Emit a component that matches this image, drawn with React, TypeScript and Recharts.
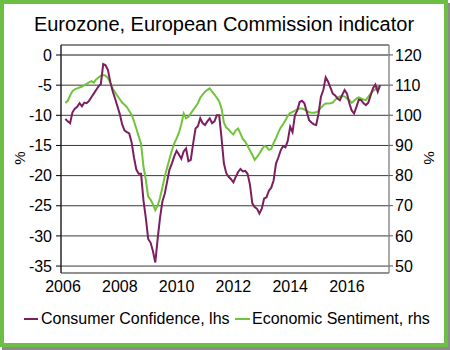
import React from 'react';
import { LineChart, Line, XAxis, YAxis, CartesianGrid, ReferenceLine, ReferenceArea } from 'recharts';

// Monthly series, Feb 2006 .. Mar 2017
const startYear = 2006;
const startMonthIndex = 1; // February
const consumerConfidence = [
  -10.6, -11.0, -11.3, -9.5, -8.9, -8.6, -8.0, -8.5, -7.9, -8.0, -7.6,
  -7.0, -6.4, -5.8, -5.2, -4.8, -1.5, -1.7, -2.5, -4.5, -6.0, -7.2, -8.5,
  -9.8, -11.5, -12.5, -12.8, -13.0, -14.5, -17.0, -19.0, -19.7, -19.7, -24.1, -27.0,
  -30.5, -31.1, -32.5, -34.4, -30.5, -27.0, -24.3, -23.0, -21.0, -19.0, -18.0, -16.8,
  -15.9, -16.5, -17.2, -16.0, -15.5, -17.6, -17.4, -14.7, -12.2, -11.8, -10.5, -11.3,
  -11.6, -11.0, -10.5, -11.3, -11.0, -10.0, -10.0, -13.8, -18.0, -19.6, -20.2, -20.6,
  -21.1, -20.2, -19.4, -18.9, -19.3, -19.2, -19.7, -21.5, -24.6, -25.2, -25.5, -26.3,
  -25.5, -23.8, -23.6, -22.5, -22.0, -20.8, -18.0, -17.0, -15.8, -15.1, -15.3, -14.2,
  -11.9, -12.8, -10.0, -9.2, -7.8, -7.6, -8.0, -9.4, -10.8, -11.2, -11.5, -11.6,
  -9.7, -6.9, -5.8, -3.7, -4.4, -5.4, -6.4, -6.7, -7.2, -7.5, -6.6, -5.8,
  -6.4, -8.0, -9.2, -9.7, -8.6, -7.4, -7.5, -8.0, -8.3, -7.9, -6.7, -5.5,
  -4.9, -6.1, -5.0,
];
const economicSentiment = [
  104.1, 104.8, 106.5, 108.0, 108.6, 108.9, 109.2, 109.5, 110.0, 110.4, 110.9,
  111.3, 110.8, 111.9, 112.5, 113.1, 113.3, 113.1, 112.3, 110.8, 108.9, 107.6, 106.4,
  105.3, 104.2, 103.5, 102.7, 101.4, 100.2, 98.0, 95.5, 93.0, 90.5, 83.0, 78.6,
  73.0, 72.0, 70.5, 68.5, 70.0, 72.6, 76.0, 79.6, 82.6, 85.5, 88.3, 90.6,
  92.3, 94.2, 97.0, 100.6, 99.0, 99.5, 100.6, 101.7, 102.8, 104.0, 105.8, 106.8,
  107.8, 108.4, 108.9, 107.8, 106.8, 105.8, 104.6, 102.2, 97.5, 95.9, 95.3, 94.3,
  93.6, 95.0, 95.6, 93.9, 92.1, 91.3, 89.8, 88.3, 86.9, 85.2, 86.2, 87.3,
  88.6, 89.8, 89.5, 88.5, 88.8, 90.8, 92.4, 94.3, 95.9, 97.0, 98.3, 99.8,
  100.7, 101.1, 101.5, 102.0, 102.2, 102.2, 101.9, 101.5, 101.0, 100.8, 100.8, 101.0,
  101.5, 102.5, 103.3, 103.9, 103.9, 104.0, 104.2, 105.1, 105.8, 106.2, 106.4, 106.2,
  105.6, 105.0, 104.1, 104.8, 105.5, 105.9, 105.6, 105.2, 105.0, 106.1, 107.2, 108.0,
  108.6, 109.5, 109.7,
];
const yearTicks = [2006, 2008, 2010, 2012, 2014, 2016];
const leftTicks = [-35, -30, -25, -20, -15, -10, -5, 0];
const rightTicks = [50, 60, 70, 80, 90, 100, 110, 120];

const title = 'Eurozone, European Commission indicator';
const ccName = 'Consumer Confidence, lhs';
const esiName = 'Economic Sentiment, rhs';

const data = consumerConfidence.map((cc, i) => ({
  t: startYear + (startMonthIndex + i) / 12,
  cc,
  esi: economicSentiment[i],
}));

const FONT = '"Liberation Sans", Arial, sans-serif';
const PURPLE = '#7B1F5F';
const GREEN = '#70C43A';

const xDomain: [number, number] = [2005.93, 2017.48];
const leftDomain: [number, number] = [-36.15, 1.66];
const rightDomain: [number, number] = [47.67, 123.3];

export default function App() {
  return (
    <div style={{ position: 'absolute', left: 0, top: 0, width: 450, height: 350, background: '#fff', fontFamily: FONT }}>
      <div style={{ position: 'absolute', left: 2, top: 3, width: 448, height: 347, background: '#8c8c8c' }} />
      <div
        style={{
          position: 'absolute', left: 0, top: 0, width: 448, height: 347,
          boxSizing: 'border-box', border: '4px solid #6CBF44', background: '#fff',
        }}
      />
      <div style={{ position: 'absolute', left: 0, top: 0 }}>
        <LineChart width={450} height={350} data={data} margin={{ top: 45, right: 5, bottom: 47, left: 11 }}>
          <CartesianGrid yAxisId="left" vertical={false} stroke="#3a3a3a" />
          <ReferenceArea
            yAxisId="left"
            x1={xDomain[0]} x2={xDomain[1]} y1={leftDomain[0]} y2={leftDomain[1]}
            fill="none" fillOpacity={0} stroke="#777" ifOverflow="visible"
          />
          <ReferenceLine yAxisId="left" y={0} stroke="#8a8a8a" strokeWidth={2} />
          <XAxis
            type="number" dataKey="t" domain={xDomain} ticks={yearTicks} interval={0}
            allowDataOverflow tickLine={false} axisLine={{ stroke: '#999' }}
            tick={{ fontSize: 16, fill: '#000', fontFamily: FONT }} height={30}
          />
          <YAxis
            yAxisId="left" domain={leftDomain} ticks={leftTicks} interval={0} allowDataOverflow
            width={50} tickSize={5} tickMargin={4}
            axisLine={{ stroke: '#000' }} tickLine={{ stroke: '#000' }}
            tick={{ fontSize: 16, fill: '#000', fontFamily: FONT }}
          />
          <YAxis
            yAxisId="right" orientation="right" domain={rightDomain} ticks={rightTicks} interval={0} allowDataOverflow
            width={56} tickSize={4} tickMargin={2}
            axisLine={{ stroke: '#999' }} tickLine={{ stroke: '#555' }}
            tick={{ fontSize: 16, fill: '#000', fontFamily: FONT }}
          />
          <Line
            yAxisId="right" type="linear" dataKey="esi" stroke={GREEN} strokeWidth={2}
            dot={false} isAnimationActive={false}
          />
          <Line
            yAxisId="left" type="linear" dataKey="cc" stroke={PURPLE} strokeWidth={2}
            dot={false} isAnimationActive={false}
          />
        </LineChart>
      </div>
      <svg width={450} height={350} style={{ position: 'absolute', left: 0, top: 0, pointerEvents: 'none' }}>
        <text x={224} y={31} textAnchor="middle" fontSize={20} fontFamily={FONT} fill="#000">{title}</text>
        <text x={0} y={0} transform="translate(25,158) rotate(-90)" textAnchor="middle" fontSize={15} fontFamily={FONT} fill="#000">%</text>
        <text x={0} y={0} transform="translate(424,158) rotate(90)" textAnchor="middle" fontSize={15} fontFamily={FONT} fill="#000">%</text>
        <line x1={24} x2={38} y1={319} y2={319} stroke={PURPLE} strokeWidth={2} />
        <text x={41} y={324} fontSize={16} fontFamily={FONT} fill="#000">{ccName}</text>
        <line x1={235} x2={250} y1={319} y2={319} stroke={GREEN} strokeWidth={2} />
        <text x={252} y={324} fontSize={16} fontFamily={FONT} fill="#000">{esiName}</text>
      </svg>
    </div>
  );
}
